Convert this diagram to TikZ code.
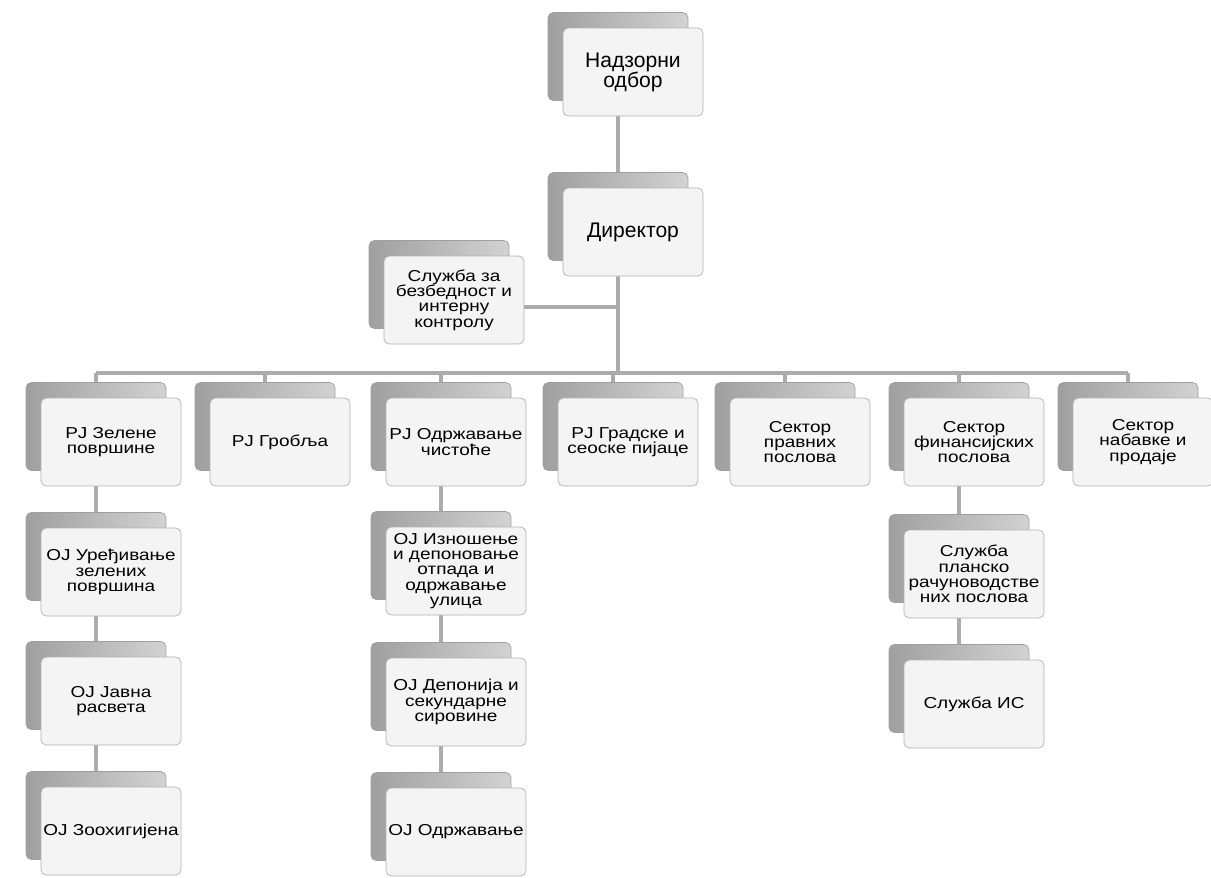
\documentclass[tikz,border=0pt]{standalone}
\usepackage{fontspec}
\setmainfont{Liberation Sans}
\newfontfamily\widesans{Liberation Sans}[FakeStretch=1.2]
\usetikzlibrary{shadows,backgrounds}

\begin{document}
\begin{tikzpicture}[x=0.02cm, y=-0.02cm,
    unit/.style={rectangle, rounded corners=3pt, draw=gray!60, fill=gray!9,
      minimum width=2.8cm, minimum height=1.76cm, inner sep=1pt, align=center,
      copy shadow={shadow xshift=-0.3cm, shadow yshift=0.31cm,
        left color=gray!75, right color=gray!35, draw=gray!75}},
    big/.style={font=\fontsize{12}{11.3}\selectfont},
    small/.style={font=\widesans\fontsize{9}{8.7}\selectfont},
    link/.style={draw=gray!65, line width=2.2pt}]
  \useasboundingbox (0,0) rectangle (1211,877);

  % Vrh
  \node[unit,big] (N) at (633,72) {Надзорни\\одбор};
  \node[unit,big] (D) at (633,232) {Директор};
  \node[unit,small] (S) at (454,300) {Служба за\\безбедност и\\интерну\\контролу};
  \coordinate (bus) at (618,373);

  % Prvi nivo
  \node[unit,small] (R1) at (111,442) {РЈ Зелене\\површине};
  \node[unit,small] (R2) at (280,442) {РЈ Гробља};
  \node[unit,small] (R3) at (456,442) {РЈ Одржавање\\чистоће};
  \node[unit,small] (R4) at (628,442) {РЈ Градске и\\сеоске пијаце};
  \node[unit,small] (R5) at (800,442) {Сектор\\правних\\послова};
  \node[unit,small] (R6) at (974,442) {Сектор\\финансијских\\послова};
  \node[unit,small] (R7) at (1143,442) {Сектор\\набавке и\\продаје};

  % Drugi nivo
  \node[unit,small] (A1) at (111,572) {ОЈ Уређивање\\зелених\\површина};
  \node[unit,small] (A2) at (111,701) {ОЈ Јавна\\расвета};
  \node[unit,small] (A3) at (111,831) {ОЈ Зоохигијена};
  \node[unit,small] (B1) at (456,571) {ОЈ Изношење\\и депоновање\\отпада и\\одржавање\\улица};
  \node[unit,small] (B2) at (456,702) {ОЈ Депонија и\\секундарне\\сировине};
  \node[unit,small] (B3) at (456,832) {ОЈ Одржавање};
  \node[unit,small] (C1) at (974,574) {Служба\\планско\\рачуноводстве\\них послова};
  \node[unit,small] (C2) at (974,704) {Служба ИС};

  % Veze
  \begin{pgfonlayer}{background}
    \fill[white] (0,0) rectangle (1211,877);
    \draw[link] ([xshift=-0.3cm]N.south) -- ([xshift=-0.3cm]D.north);
    \draw[link] ([xshift=-0.3cm]D.south) -- (bus);
    \draw[link] ([yshift=-0.14cm]S.east) -- ([yshift=-0.14cm]S.east -| bus);
    \draw[link] ([xshift=-0.3cm]R1.north |- bus) -- ([xshift=-0.3cm]R7.north |- bus);
    \foreach \n in {R1,R2,R3,R4,R5,R6,R7}
      \draw[link] ([xshift=-0.3cm]\n.north |- bus) -- ([xshift=-0.3cm]\n.north);
    \draw[link] ([xshift=-0.3cm]R1.south) -- ([xshift=-0.3cm]A1.north);
    \draw[link] ([xshift=-0.3cm]A1.south) -- ([xshift=-0.3cm]A2.north);
    \draw[link] ([xshift=-0.3cm]A2.south) -- ([xshift=-0.3cm]A3.north);
    \draw[link] ([xshift=-0.3cm]R3.south) -- ([xshift=-0.3cm]B1.north);
    \draw[link] ([xshift=-0.3cm]B1.south) -- ([xshift=-0.3cm]B2.north);
    \draw[link] ([xshift=-0.3cm]B2.south) -- ([xshift=-0.3cm]B3.north);
    \draw[link] ([xshift=-0.3cm]R6.south) -- ([xshift=-0.3cm]C1.north);
    \draw[link] ([xshift=-0.3cm]C1.south) -- ([xshift=-0.3cm]C2.north);
  \end{pgfonlayer}
\end{tikzpicture}
\end{document}
